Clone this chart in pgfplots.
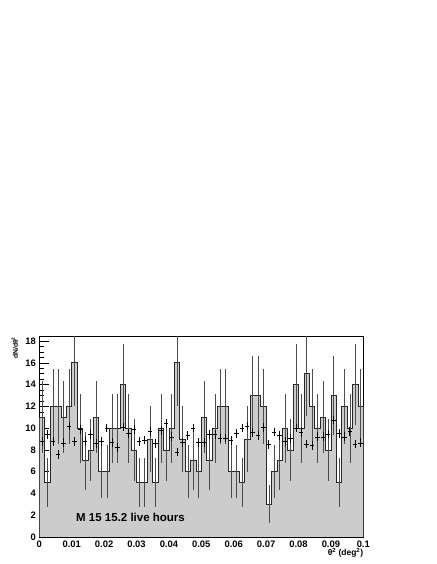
\documentclass[border=0pt]{standalone}
\usepackage{fontspec}
\setmainfont{Liberation Sans}
\usepackage{pgfplots}
\usepackage{pgfplotstable}
\pgfplotsset{compat=1.18}

% lo = bin lower edge, c = bin centre, on = counts, off = background points
\pgfplotstableread{
lo      c       on  off
0.00000 0.00083 11  8.8
0.00167 0.00250 5   9.4
0.00333 0.00417 12  8.8
0.00500 0.00583 12  7.6
0.00667 0.00750 11  8.65
0.00833 0.00917 12  10.2
0.01000 0.01083 16  8.8
0.01167 0.01250 10  9.9
0.01333 0.01417 7   8.8
0.01500 0.01583 8   9.4
0.01667 0.01750 11  8.6
0.01833 0.01917 6   8.8
0.02000 0.02083 6   10.0
0.02167 0.02250 10  8.7
0.02333 0.02417 10  8.2
0.02500 0.02583 14  10.1
0.02667 0.02750 10  9.5
0.02833 0.02917 8   9.9
0.03000 0.03083 5   8.8
0.03167 0.03250 5   8.9
0.03333 0.03417 9   9.7
0.03500 0.03583 5   8.6
0.03667 0.03750 10  9.8
0.03833 0.03917 8   10.4
0.04000 0.04083 10  9.2
0.04167 0.04250 16  7.8
0.04333 0.04417 9   8.7
0.04500 0.04583 6   9.3
0.04667 0.04750 7   10.0
0.04833 0.04917 6   8.7
0.05000 0.05083 11  8.7
0.05167 0.05250 7   9.4
0.05333 0.05417 10  9.4
0.05500 0.05583 12  9.1
0.05667 0.05750 12  9.1
0.05833 0.05917 6   8.85
0.06000 0.06083 6   9.5
0.06167 0.06250 5   10.0
0.06333 0.06417 9   10.2
0.06500 0.06583 13  9.6
0.06667 0.06750 13  9.35
0.06833 0.06917 12  10.05
0.07000 0.07083 3   8.5
0.07167 0.07250 6   9.65
0.07333 0.07417 7   9.35
0.07500 0.07583 10  8.8
0.07667 0.07750 8   9.05
0.07833 0.07917 14  10.0
0.08000 0.08083 10  9.6
0.08167 0.08250 15  8.55
0.08333 0.08417 12  8.4
0.08500 0.08583 10  9.2
0.08667 0.08750 11  9.2
0.08833 0.08917 8   9.45
0.09000 0.09083 13  10.75
0.09167 0.09250 5   9.5
0.09333 0.09417 12  9.2
0.09500 0.09583 10  9.7
0.09667 0.09750 14  8.55
0.09833 0.09917 12  8.65
0.10000 nan     12  nan
}\thetasq

\begin{document}
\begin{tikzpicture}
\path[use as bounding box] (0,0) rectangle (436pt,564pt);
\begin{axis}[
    name=ax,
    at={(39.3pt,27pt)}, anchor=south west,
    scale only axis,
    width=324pt, height=200.3pt,
    xmin=0, xmax=0.1,
    ymin=0, ymax=18.4,
    xtick={0,0.01,0.02,0.03,0.04,0.05,0.06,0.07,0.08,0.09,0.1},
    ytick={0,2,4,6,8,10,12,14,16,18},
    minor x tick num=4,
    minor y tick num=3,
    xtick pos=bottom, ytick pos=left,
    tick align=inside,
    scaled x ticks=false,
    xticklabel style={/pgf/number format/fixed, /pgf/number format/precision=2},
    ticklabel style={font=\bfseries\fontsize{9.4}{10}\selectfont},
    /pgf/number format/assume math mode=true,
    axis line style={line width=0.8pt},
    tick style={black, line width=0.6pt},
    xtick style={/pgfplots/major tick length=6pt, /pgfplots/minor tick length=3pt},
    ytick style={/pgfplots/major tick length=9.7pt, /pgfplots/minor tick length=4.8pt},
    unbounded coords=discard,
  ]

  \addplot[const plot, fill=gray!40, draw=black!85, line width=0.7pt]
    table[x=lo, y=on] {\thetasq} \closedcycle;

  \addplot[draw=none, mark=none, forget plot,
    error bars/.cd, y dir=both, y explicit, error mark=none,
    error bar style={draw=black!70, solid, line width=0.55pt}]
    table[x=c, y=on, y error expr=sqrt(\thisrow{on})] {\thetasq};

  \addplot[draw=none, mark=none, forget plot,
    error bars/.cd, x dir=both, x fixed=0.0007, y dir=both, y fixed=0.4,
    error mark=none, error bar style={draw=black, solid, line width=0.6pt}]
    table[x=c, y=off] {\thetasq};

  \node[anchor=west, font=\bfseries\fontsize{11.5}{12}\selectfont]
    at (axis cs:0.0103,1.77) {M 15 15.2 live hours};
\end{axis}
\node[rotate=90, anchor=south east, inner sep=0pt,
  font=\bfseries\fontsize{6.8}{8}\selectfont]
  at ([xshift=-21pt]ax.north west) {dN/dθ\textsuperscript{2}};
\node[anchor=north east, inner sep=0pt,
  font=\bfseries\fontsize{8.5}{9}\selectfont]
  at ([yshift=-11pt]ax.south east) {θ\textsuperscript{2} (deg\textsuperscript{2})};
\end{tikzpicture}
\end{document}
